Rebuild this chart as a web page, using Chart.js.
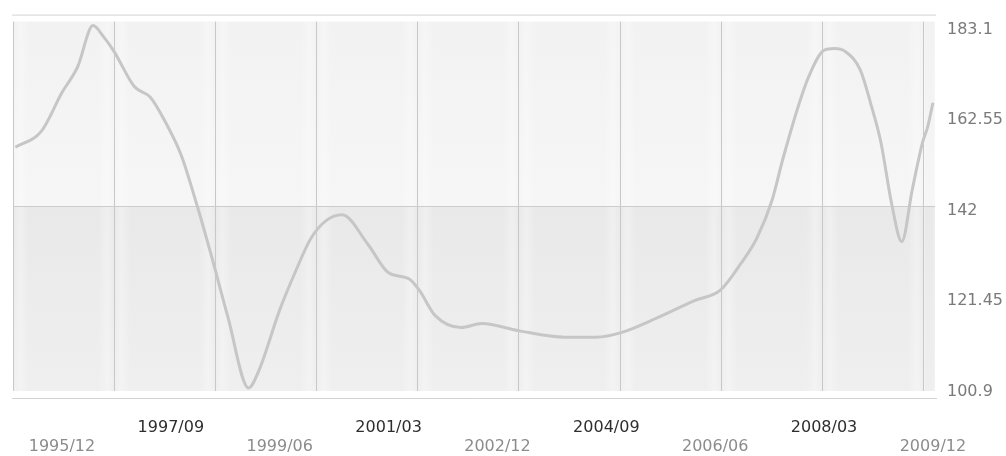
<!DOCTYPE html>
<html>
<head>
<meta charset="utf-8">
<script src="https://cdn.jsdelivr.net/npm/chart.js@4.4.1/dist/chart.umd.min.js"></script>
<style>
  html, body { margin: 0; padding: 0; background: #fff; }
  #c { display: block; }
</style>
</head>
<body>
<canvas id="c" width="1006" height="456"></canvas>
<script>
// Index series, sampled at its turning points (YYYY/MM)
const months = [
  '1995/03','1995/08','1995/12','1996/03','1996/06','1996/08','1996/10',
  '1997/02','1997/05','1997/08','1997/11','1998/02','1998/05','1998/08',
  '1998/12','1999/02','1999/06','1999/09','1999/12','2000/03','2000/06',
  '2000/11','2001/03','2001/07','2001/09','2001/12','2002/05','2002/09',
  '2003/04','2004/01','2004/07','2004/12','2005/07','2006/02','2006/07',
  '2006/11','2007/02','2007/05','2007/07','2007/10','2007/12','2008/03',
  '2008/05','2008/07','2008/10','2008/12','2009/02','2009/04','2009/06',
  '2009/08','2009/10','2009/11','2009/12'
];
const values = [
  155.5, 159.1, 167.9, 173.7, 183.1, 180.6, 177.3,
  169.2, 166.9, 161.1, 153.7, 142.5, 130.1, 117.0,
  100.9, 104.9, 118.6, 127.2, 134.8, 138.9, 140.2,
  133.5, 127.0, 125.6, 122.9, 117.3, 114.6, 115.5,
  113.9, 112.4, 112.4, 113.5, 116.9, 120.7, 123.1,
  129.2, 134.8, 143.6, 152.6, 164.7, 171.4, 177.5,
  177.9, 177.3, 173.0, 165.4, 156.4, 142.9, 134.1,
  145.8, 156.6, 160.2, 165.6
];

// Axis labels
const xTickLabels = ['1995/12','1997/09','1999/06','2001/03','2002/12','2004/09','2006/06','2008/03','2009/12'];
const yTickValues = [100.9, 121.45, 142, 162.55, 183.1];

// Months counted from 1995/12
function monthIndex(s) {
  const [yr, mo] = s.split('/').map(Number);
  return (yr - 1995) * 12 + (mo - 12);
}

const points = months.map((m, i) => ({ x: monthIndex(m), y: values[i] }));

const COLUMNS = 9.111;   // panel width of the background grid, in columns

// Panelled grey backdrop with frame lines above and below the plot
const backdrop = {
  id: 'backdrop',
  beforeDraw(chart) {
    const { ctx, chartArea: a, scales } = chart;
    const mid = scales.y.getPixelForValue(142);
    ctx.save();
    ctx.fillStyle = '#ffffff';
    ctx.fillRect(0, 0, chart.width, chart.height);

    let g = ctx.createLinearGradient(0, a.top, 0, mid);
    g.addColorStop(0, '#f2f2f2');
    g.addColorStop(1, '#f6f6f6');
    ctx.fillStyle = g;
    ctx.fillRect(a.left, a.top, a.width, mid - a.top);

    g = ctx.createLinearGradient(0, mid, 0, a.bottom);
    g.addColorStop(0, '#e9e9e9');
    g.addColorStop(1, '#efefef');
    ctx.fillStyle = g;
    ctx.fillRect(a.left, mid, a.width, a.bottom - mid);

    // soft highlight strips along each panel edge
    const gx = scales.grid10;
    for (let k = 0; k < 10; k++) {
      const x0 = gx.getPixelForValue(k);
      const x1 = Math.min(gx.getPixelForValue(k + 1), a.right);
      const w = x1 - x0;
      if (w <= 2) continue;
      const h = ctx.createLinearGradient(x0, 0, x1, 0);
      h.addColorStop(0, 'rgba(255,255,255,0)');
      h.addColorStop(Math.min(0.07, 8 / w), 'rgba(255,255,255,0.3)');
      h.addColorStop(Math.min(0.16, 18 / w), 'rgba(255,255,255,0)');
      h.addColorStop(Math.max(0.84, 1 - 18 / w), 'rgba(255,255,255,0)');
      h.addColorStop(Math.max(0.93, 1 - 8 / w), 'rgba(255,255,255,0.3)');
      h.addColorStop(1, 'rgba(255,255,255,0)');
      ctx.fillStyle = h;
      ctx.fillRect(x0, a.top, w, a.bottom - a.top);
    }

    ctx.strokeStyle = '#d3d3d3';
    ctx.lineWidth = 1;
    ctx.beginPath();
    ctx.moveTo(a.left - 1, a.top - 6.5);
    ctx.lineTo(a.right + 1, a.top - 6.5);
    ctx.moveTo(a.left - 1, a.bottom + 7.5);
    ctx.lineTo(a.right + 2, a.bottom + 7.5);
    ctx.stroke();
    ctx.restore();
  }
};

new Chart(document.getElementById('c'), {
  type: 'line',
  data: {
    datasets: [{
      data: points,
      borderColor: '#c6c6c6',
      borderWidth: 3,
      pointRadius: 0,
      fill: false,
      cubicInterpolationMode: 'monotone'
    }]
  },
  options: {
    responsive: false,
    animation: false,
    layout: { padding: { left: 13, top: 18, right: 0, bottom: 0 } },
    plugins: { legend: { display: false }, tooltip: { enabled: false } },
    scales: {
      x: {
        type: 'linear',
        position: 'bottom',
        min: -9.45,
        max: 168.4,
        afterBuildTicks: ax => { ax.ticks = xTickLabels.map(s => ({ value: monthIndex(s) })); },
        afterFit: ax => { ax.height = 65; },
        grid: { display: false, drawTicks: false },
        border: { display: false },
        ticks: {
          autoSkip: false,
          maxRotation: 0,
          padding: 27,
          callback: (v, i) => (i % 2 ? [xTickLabels[i], ''] : ['', xTickLabels[i]]),
          color: ctx => (ctx.index % 2 ? '#2e2e2e' : '#8c8c8c'),
          font: { family: 'DejaVu Sans', size: 16, lineHeight: 1.2 }
        }
      },
      grid10: {
        type: 'linear',
        position: 'bottom',
        min: 0,
        max: COLUMNS,
        afterBuildTicks: ax => { ax.ticks = [0,1,2,3,4,5,6,7,8,9].map(v => ({ value: v })); },
        afterFit: ax => { ax.height = 0; },
        ticks: { display: false },
        grid: { color: '#c8c8c8', lineWidth: 1, drawTicks: false },
        border: { display: false }
      },
      y: {
        position: 'right',
        min: 100.2,
        max: 184.0,
        afterBuildTicks: ax => { ax.ticks = yTickValues.map(v => ({ value: v })); },
        afterFit: ax => { ax.width = 71; },
        grid: {
          drawTicks: false,
          color: ctx => (ctx.tick && ctx.tick.value === 142 ? '#cccccc' : 'rgba(0,0,0,0)')
        },
        border: { display: false },
        ticks: {
          padding: 12,
          labelOffset: 4,
          color: '#7a7a7a',
          font: { family: 'DejaVu Sans', size: 16 },
          callback: v => String(v)
        }
      }
    }
  },
  plugins: [backdrop]
});
</script>
</body>
</html>
